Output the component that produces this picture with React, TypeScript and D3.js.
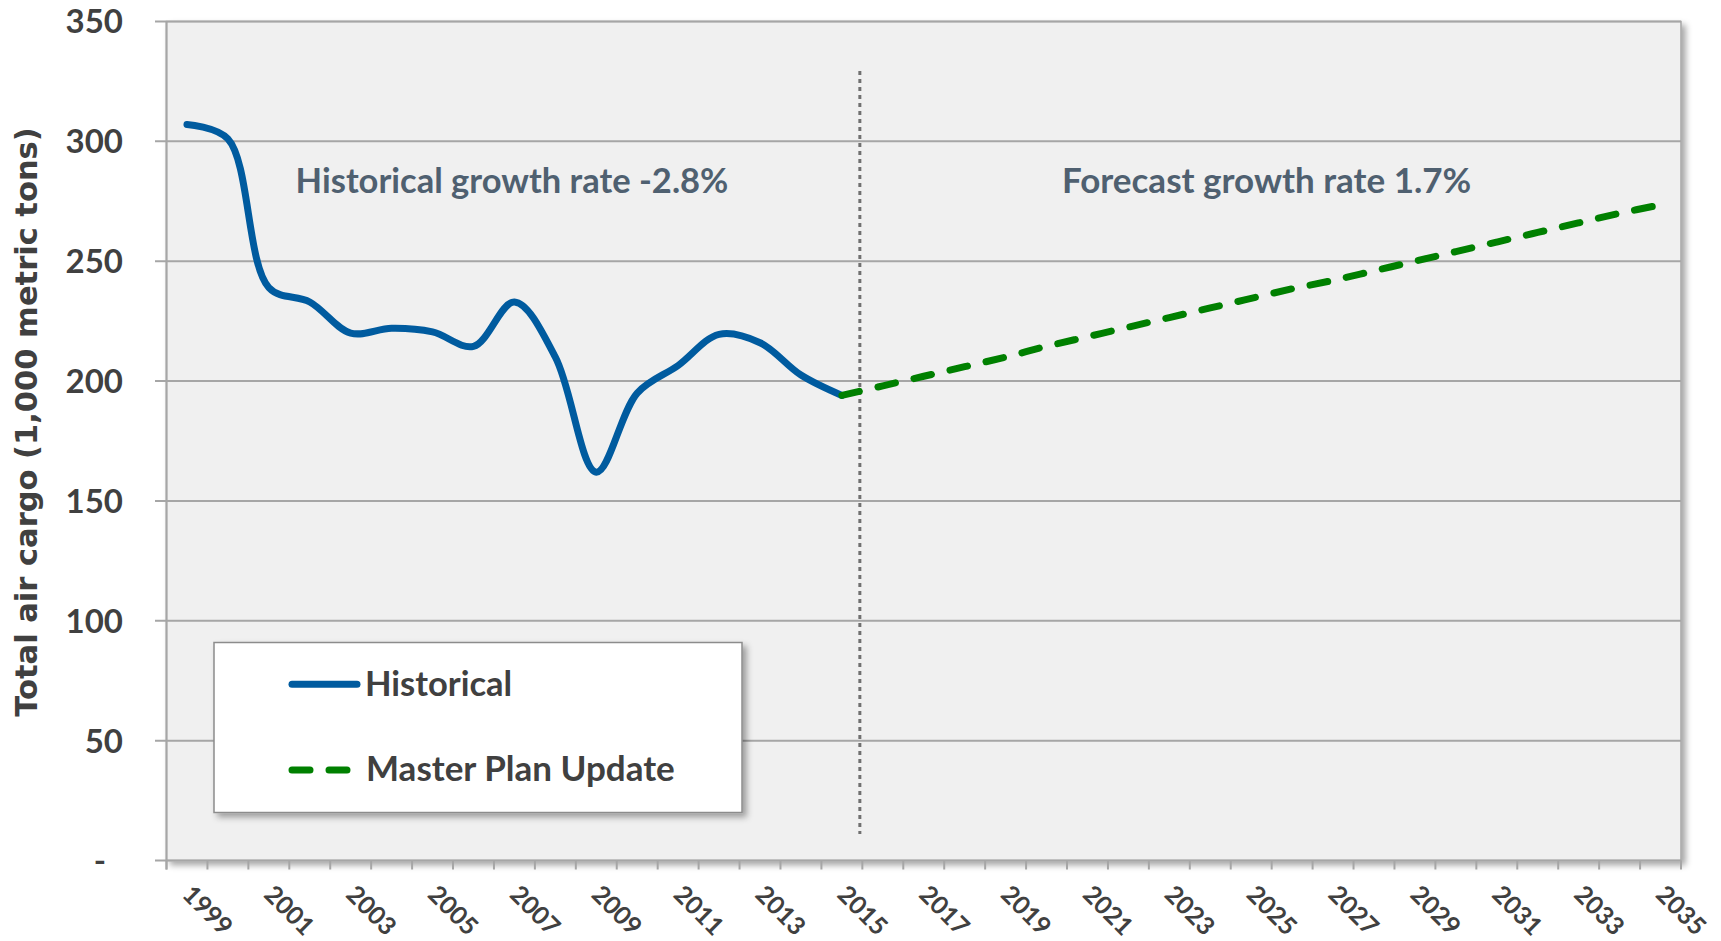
import * as d3 from 'd3'

// categories (one per year) and the labelled ones
const allYears = d3.range(1999, 2036).map(String)
const labelYears = ['1999', '2001', '2003', '2005', '2007', '2009', '2011', '2013', '2015', '2017',
  '2019', '2021', '2023', '2025', '2027', '2029', '2031', '2033', '2035']

// historical air cargo, 1,000 metric tons
const histYears = ['1999', '2000', '2001', '2002', '2003', '2004', '2005', '2006', '2007', '2008',
  '2009', '2010', '2011', '2012', '2013', '2014', '2015']
const histValues = [307, 301, 239, 233, 220, 222, 220.5, 214.5, 233, 210, 162, 195, 206.5, 219.5, 216, 202.5, 194]

// master plan update forecast
const fcstYears = ['2015', '2016', '2017', '2018', '2019', '2020', '2021', '2022', '2023', '2024', '2025',
  '2026', '2027', '2028', '2029', '2030', '2031', '2032', '2033', '2034', '2035']
const fcstValues = [194, 198, 202, 206, 210, 214.5, 218.5, 222.5, 226.5, 230.5, 234.5,
  238.5, 242, 246, 250, 254, 258, 262, 266, 270, 273.5]

const yTicks = [0, 50, 100, 150, 200, 250, 300, 350]

const W = 1721
const H = 941
const plot = { left: 166.5, right: 1681, top: 21.5, bottom: 860.5 }

const FONT = "Lato, 'Open Sans', sans-serif"
const TEXT = '#404040'
const GRID = '#a6a6a6'

export default function App() {
  const x = d3.scaleBand<string>().domain(allYears).range([plot.left, plot.right])
  const bw = x.bandwidth()
  const cx = (yr: string) => (x(yr) ?? 0) + bw / 2
  const y = d3.scaleLinear().domain([0, 350]).range([plot.bottom, plot.top])

  const line = d3.line<[string, number]>()
    .x(d => cx(d[0]))
    .y(d => y(d[1]))
    .curve(d3.curveCatmullRom.alpha(0.5))

  const histPath = line(histYears.map((yr, i) => [yr, histValues[i]]))
  const fcstPath = line(fcstYears.map((yr, i) => [yr, fcstValues[i]]))

  // marker sits just before the 2015/2016 category boundary
  const splitX = (x('2016') ?? 0) - 2.5

  const tickXs = d3.range(allYears.length + 1).map(i => plot.left + i * bw)

  return (
    <svg width={W} height={H} style={{ position: 'absolute', left: 0, top: 0, background: '#fff' }}>
      <defs>
        <filter id="shadow" x="-5%" y="-5%" width="115%" height="115%">
          <feDropShadow dx="4" dy="4" stdDeviation="3" floodColor="#000" floodOpacity="0.35" />
        </filter>
      </defs>

      {/* plot area */}
      <rect x={plot.left} y={plot.top} width={plot.right - plot.left} height={plot.bottom - plot.top}
        fill="#f0f0f0" stroke={GRID} strokeWidth={1.5} filter="url(#shadow)" />

      {/* gridlines + y ticks */}
      {yTicks.map(t => (
        <line key={t} x1={155} x2={plot.right} y1={y(t)} y2={y(t)} stroke={GRID} strokeWidth={2} />
      ))}
      <line x1={plot.left} x2={plot.left} y1={plot.top} y2={869.5} stroke={GRID} strokeWidth={2} />
      {tickXs.map((tx, i) => (
        <line key={i} x1={tx} x2={tx} y1={plot.bottom} y2={869.5} stroke={GRID} strokeWidth={2} />
      ))}

      {/* y tick labels */}
      {yTicks.map(t => (
        <text key={t} x={t === 0 ? 106 : 123} y={y(t)} dy="0.36em" textAnchor="end"
          fontFamily={FONT} fontWeight="bold" fontSize={33} fill={TEXT}>
          {t === 0 ? '-' : t}
        </text>
      ))}

      {/* x tick labels */}
      {labelYears.map(yr => (
        <text key={yr} transform={`translate(${cx(yr) - 6},896) rotate(45)`} textAnchor="start"
          fontFamily={FONT} fontWeight="bold" fontSize={25} fill={TEXT}>
          {yr}
        </text>
      ))}

      {/* y axis title */}
      <text transform="translate(37,422) rotate(-90)" textAnchor="middle"
        fontFamily="'DejaVu Sans', Verdana, sans-serif" fontWeight="bold" fontSize={30.5} fill={TEXT}>
        Total air cargo (1,000 metric tons)
      </text>

      {/* split marker */}
      <line x1={splitX} x2={splitX} y1={71} y2={834} stroke="#707070" strokeWidth={3} strokeDasharray="4 4" />

      {/* series */}
      <path d={histPath ?? ''} fill="none" stroke="#005b9f" strokeWidth={7} strokeLinejoin="round" strokeLinecap="round" />
      <path d={fcstPath ?? ''} fill="none" stroke="#008000" strokeWidth={7} strokeLinecap="round" strokeDasharray="18 19" />

      {/* annotations */}
      <text x={512} y={193} textAnchor="middle" fontFamily={FONT} fontWeight="bold" fontSize={34.5} fill="#4f6070">
        Historical growth rate -2.8%
      </text>
      <text x={1266.6} y={193} textAnchor="middle" fontFamily={FONT} fontWeight="bold" fontSize={35} fill="#4f6070">
        Forecast growth rate 1.7%
      </text>

      {/* legend */}
      <g>
        <rect x={214} y={642.5} width={528} height={170} fill="#fff" stroke="#8c8c8c" strokeWidth={1.5} filter="url(#shadow)" />
        <line x1={292} x2={357} y1={684.3} y2={684.3} stroke="#005b9f" strokeWidth={7} strokeLinecap="round" />
        <text x={365} y={695.5} fontFamily={FONT} fontWeight="bold" fontSize={34.5} fill={TEXT}>Historical</text>
        <line x1={292} x2={347} y1={770} y2={770} stroke="#008000" strokeWidth={7} strokeLinecap="round" strokeDasharray="18 19" />
        <text x={366} y={780.5} fontFamily={FONT} fontWeight="bold" fontSize={35} fill={TEXT}>Master Plan Update</text>
      </g>
    </svg>
  )
}
